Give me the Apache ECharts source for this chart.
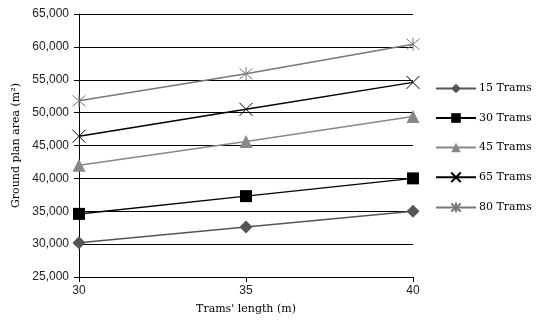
<!DOCTYPE html>
<html>
<head>
<meta charset="utf-8">
<script src="https://cdn.jsdelivr.net/npm/echarts@6/dist/echarts.min.js"></script>
<style>
  html, body { margin: 0; padding: 0; background: #fff; }
  #chart { width: 545px; height: 327px; }
</style>
</head>
<body>
<div id="chart"></div>
<script>
// Tram length (m) on the x axis
const lengths = [30, 35, 40];

// Ground plan area (m²) per fleet size
const trams15 = [30200, 32600, 35000];
const trams30 = [34600, 37300, 40000];
const trams45 = [42000, 45600, 49400];
const trams65 = [46400, 50500, 54600];
const trams80 = [51800, 55900, 60400];

const seriesNames = ['15 Trams', '30 Trams', '45 Trams', '65 Trams', '80 Trams'];
const yTicks = { min: 25000, max: 65000, step: 5000 };

// Marker shapes
const crossPath = 'path://M0,0 L10,10 M10,0 L0,10';
const starPath = 'path://M0,0 L10,10 M10,0 L0,10 M5,-1 L5,11';

function pairs(vals) {
  return lengths.map((x, i) => [x, vals[i]]);
}

function makeSeries(name, vals, color, symbol, size, hollow) {
  return {
    name: name,
    type: 'line',
    data: pairs(vals),
    symbol: symbol,
    symbolSize: size,
    showAllSymbol: true,
    lineStyle: { color: color, width: 1.5 },
    itemStyle: hollow
      ? { color: 'rgba(0,0,0,0)', borderColor: color, borderWidth: 1 }
      : { color: color, borderWidth: 0 },
    emphasis: { disabled: true },
    z: 3
  };
}

const chart = echarts.init(document.getElementById('chart'), null, { renderer: 'canvas' });

chart.setOption({
  animation: false,
  backgroundColor: '#fff',
  grid: { left: 79, right: 132, top: 14, bottom: 50 },
  legend: {
    orient: 'vertical',
    left: 430,
    top: 78,
    itemWidth: 40,
    itemHeight: 12,
    itemGap: 18.5,
    data: seriesNames,
    textStyle: { fontFamily: 'DejaVu Serif', fontSize: 11, color: '#000', padding: [0, 0, 0, -2] }
  },
  xAxis: {
    type: 'value',
    min: 30,
    max: 40,
    interval: 5,
    name: "Trams' length (m)",
    nameLocation: 'middle',
    nameGap: 27,
    nameTextStyle: { fontFamily: 'DejaVu Serif', fontSize: 11, color: '#000' },
    axisLine: { lineStyle: { color: '#000', width: 1 } },
    axisTick: { show: true, length: 5, lineStyle: { color: '#000' } },
    axisLabel: { fontFamily: 'Liberation Sans', fontSize: 12, color: '#222', margin: 8 },
    splitLine: { show: false }
  },
  yAxis: {
    type: 'value',
    min: yTicks.min,
    max: yTicks.max,
    interval: yTicks.step,
    name: 'Ground plan area (m²)',
    nameLocation: 'middle',
    nameGap: 57,
    nameTextStyle: { fontFamily: 'DejaVu Serif', fontSize: 11, color: '#000' },
    axisLine: { show: true, lineStyle: { color: '#000', width: 1 } },
    axisTick: { show: true, length: 5, lineStyle: { color: '#000' } },
    axisLabel: {
      fontFamily: 'Liberation Sans', fontSize: 12, color: '#222', margin: 10,
      formatter: v => v.toLocaleString('en-US')
    },
    splitLine: { show: true, lineStyle: { color: '#000', width: 1 } }
  },
  series: [
    makeSeries(seriesNames[0], trams15, '#555555', 'diamond', 13, false),
    makeSeries(seriesNames[1], trams30, '#000000', 'rect', 12, false),
    makeSeries(seriesNames[2], trams45, '#888888', 'triangle', 13, false),
    makeSeries(seriesNames[3], trams65, '#000000', crossPath, 13, true),
    makeSeries(seriesNames[4], trams80, '#777777', starPath, 13, true)
  ]
});
</script>
</body>
</html>
